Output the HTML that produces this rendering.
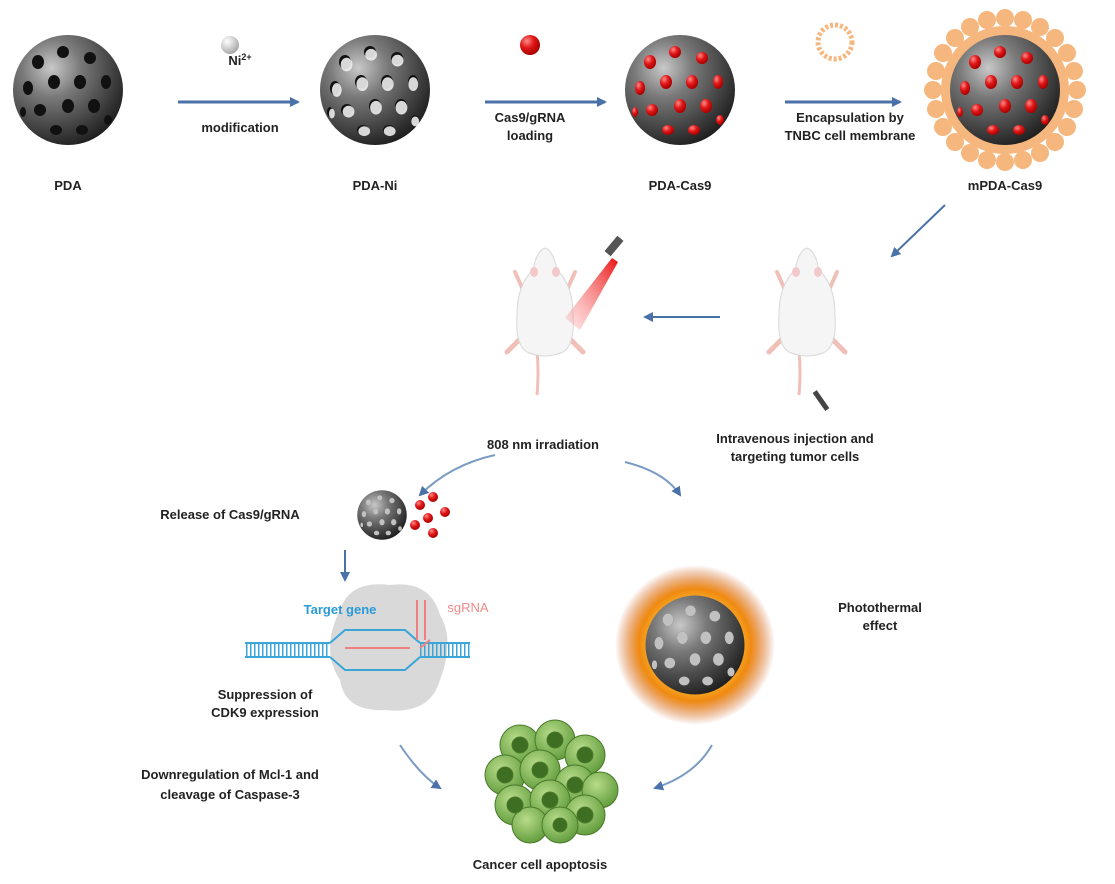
<!DOCTYPE html>
<html><head><meta charset="utf-8"><style>
html,body{margin:0;padding:0;background:#fff;}
svg{display:block;}
text{font-family:"Liberation Sans",Arial,sans-serif;font-weight:bold;font-size:13px;fill:#222;}
</style></head><body>
<svg width="1115" height="884" viewBox="0 0 1115 884" xmlns="http://www.w3.org/2000/svg">
<defs>
<radialGradient id="sph" cx="0.35" cy="0.3" r="0.75">
<stop offset="0" stop-color="#c9c9c9"/><stop offset="0.35" stop-color="#7a7a7a"/><stop offset="0.8" stop-color="#3a3a3a"/><stop offset="1" stop-color="#1e1e1e"/></radialGradient>
<radialGradient id="red" cx="0.35" cy="0.3" r="0.7"><stop offset="0" stop-color="#ff8a8a"/><stop offset="0.5" stop-color="#e01818"/><stop offset="1" stop-color="#a00"/></radialGradient>
<radialGradient id="wb" cx="0.35" cy="0.3" r="0.7"><stop offset="0" stop-color="#fff"/><stop offset="1" stop-color="#aaa"/></radialGradient>
<radialGradient id="cell" cx="0.4" cy="0.35" r="0.7"><stop offset="0" stop-color="#b8dc8a"/><stop offset="1" stop-color="#5e9a3a"/></radialGradient>
<radialGradient id="burst" cx="0.5" cy="0.5" r="0.5"><stop offset="0.4" stop-color="#ffd64a"/><stop offset="0.7" stop-color="#f08a10"/><stop offset="1" stop-color="#c85010" stop-opacity="0"/></radialGradient>
<linearGradient id="beamg" x1="1" y1="0" x2="0" y2="1"><stop offset="0" stop-color="#e81010"/><stop offset="1" stop-color="#ff9090" stop-opacity="0.2"/></linearGradient>
<marker id="ah" markerWidth="10" markerHeight="10" refX="8" refY="5" orient="auto" markerUnits="userSpaceOnUse"><path d="M0,0 L10,5 L0,10 z" fill="#4a72a8"/></marker>
<g id="holes">
<ellipse cx="-30" cy="-28" rx="6" ry="7"/><ellipse cx="-5" cy="-38" rx="6" ry="6"/><ellipse cx="22" cy="-32" rx="6" ry="6"/>
<ellipse cx="-40" cy="-2" rx="5" ry="7"/><ellipse cx="-14" cy="-8" rx="6" ry="7"/><ellipse cx="12" cy="-8" rx="6" ry="7"/><ellipse cx="38" cy="-8" rx="5" ry="7"/>
<ellipse cx="-28" cy="20" rx="6" ry="6"/><ellipse cx="0" cy="16" rx="6" ry="7"/><ellipse cx="26" cy="16" rx="6" ry="7"/>
<ellipse cx="-12" cy="40" rx="6" ry="5"/><ellipse cx="14" cy="40" rx="6" ry="5"/><ellipse cx="40" cy="30" rx="4" ry="5"/><ellipse cx="-45" cy="22" rx="3" ry="5"/>
</g>
<g id="sphere"><circle r="55" fill="url(#sph)"/></g>
<g id="mouse">
<path d="M-8,40 Q-6,62 -8,85" fill="none" stroke="#f0c0b8" stroke-width="3"/>
<path d="M-22,-20 L-30,-38 M22,-20 L30,-38" stroke="#f0c0b8" stroke-width="4" stroke-linecap="round"/>
<path d="M-26,30 L-38,42 M26,30 L38,42" stroke="#f0c0b8" stroke-width="5" stroke-linecap="round"/>
<path d="M0,-62 Q-8,-60 -12,-40 Q-28,-25 -28,5 Q-30,35 -18,42 Q0,50 18,42 Q30,35 28,5 Q28,-25 12,-40 Q8,-60 0,-62 Z" fill="#f5f5f5" stroke="#d8d8d8"/>
<ellipse cx="-11" cy="-38" rx="4" ry="5" fill="#f2c8c8"/><ellipse cx="11" cy="-38" rx="4" ry="5" fill="#f2c8c8"/>
</g>
</defs>

<!-- Row 1 -->
<g transform="translate(68,90)"><use href="#sphere"/><use href="#holes" fill="#111"/></g>
<g transform="translate(375,90)"><use href="#sphere"/><use href="#holes" fill="#111"/><use href="#holes" fill="#eee" transform="translate(1,2) scale(0.98)" opacity="0.9"/></g>
<g transform="translate(680,90)"><use href="#sphere"/><use href="#holes" fill="url(#red)"/></g>
<g transform="translate(1005,90)">
<g fill="#f6b77e">
<circle cx="0" cy="-72" r="9"/><circle cx="18" cy="-70" r="9"/><circle cx="35" cy="-63" r="9"/><circle cx="50" cy="-52" r="9"/><circle cx="62" cy="-37" r="9"/><circle cx="69" cy="-19" r="9"/><circle cx="72" cy="0" r="9"/><circle cx="69" cy="19" r="9"/><circle cx="62" cy="37" r="9"/><circle cx="50" cy="52" r="9"/><circle cx="35" cy="63" r="9"/><circle cx="18" cy="70" r="9"/><circle cx="0" cy="72" r="9"/><circle cx="-18" cy="70" r="9"/><circle cx="-35" cy="63" r="9"/><circle cx="-50" cy="52" r="9"/><circle cx="-62" cy="37" r="9"/><circle cx="-69" cy="19" r="9"/><circle cx="-72" cy="0" r="9"/><circle cx="-69" cy="-19" r="9"/><circle cx="-62" cy="-37" r="9"/><circle cx="-50" cy="-52" r="9"/><circle cx="-35" cy="-63" r="9"/><circle cx="-18" cy="-70" r="9"/>
</g>
<circle r="64" fill="#f6b77e"/>
<use href="#sphere"/><use href="#holes" fill="url(#red)"/></g>

<circle cx="230" cy="45" r="9" fill="url(#wb)"/>
<circle cx="530" cy="45" r="10" fill="url(#red)"/>
<circle cx="835" cy="42" r="17" fill="none" stroke="#f6b77e" stroke-width="5" stroke-dasharray="3 2"/>

<g stroke="#4a72a8" stroke-width="3" marker-end="url(#ah)">
<line x1="178" y1="102" x2="298" y2="102"/><line x1="485" y1="102" x2="605" y2="102"/><line x1="785" y1="102" x2="900" y2="102"/>
<line x1="945" y1="205" x2="892" y2="256" stroke-width="2"/>
<line x1="720" y1="317" x2="645" y2="317" stroke-width="2"/>
<line x1="345" y1="550" x2="345" y2="580" stroke-width="2"/>
</g>
<g fill="none" stroke="#7a9cc4" stroke-width="2" marker-end="url(#ah)">
<path d="M495,455 Q450,465 420,495"/>
<path d="M625,462 Q665,472 680,495"/>
<path d="M400,745 Q420,775 440,788"/>
<path d="M712,745 Q695,775 655,788"/>
</g>

<text x="240" y="65" text-anchor="middle">Ni<tspan font-size="9" dy="-5">2+</tspan></text>
<text x="240" y="132" text-anchor="middle">modification</text>
<text x="530" y="122" text-anchor="middle">Cas9/gRNA</text>
<text x="530" y="140" text-anchor="middle">loading</text>
<text x="850" y="122" text-anchor="middle">Encapsulation by</text>
<text x="850" y="140" text-anchor="middle">TNBC cell membrane</text>
<text x="68" y="190" text-anchor="middle">PDA</text>
<text x="375" y="190" text-anchor="middle">PDA-Ni</text>
<text x="680" y="190" text-anchor="middle">PDA-Cas9</text>
<text x="1005" y="190" text-anchor="middle">mPDA-Cas9</text>

<!-- Mice -->
<g transform="translate(545,310)"><use href="#mouse"/></g>
<path d="M612,258 L618,262 L580,330 L565,318 Z" fill="url(#beamg)"/>
<rect x="610" y="236" width="8" height="20" fill="#555" transform="rotate(40 614 246)"/>
<g transform="translate(807,310)"><use href="#mouse"/></g>
<rect x="818" y="390" width="5" height="22" fill="#444" transform="rotate(-35 820 400)"/>

<text x="543" y="449" text-anchor="middle">808 nm irradiation</text>
<text x="795" y="443" text-anchor="middle">Intravenous injection and</text>
<text x="795" y="461" text-anchor="middle">targeting tumor cells</text>

<!-- Release -->
<text x="230" y="519" text-anchor="middle">Release of Cas9/gRNA</text>
<g transform="translate(382,515) scale(0.45)"><use href="#sphere"/><use href="#holes" fill="#111"/><use href="#holes" fill="#eee" opacity="0.8"/></g>
<g fill="url(#red)"><circle cx="420" cy="505" r="5"/><circle cx="433" cy="497" r="5"/><circle cx="428" cy="518" r="5"/><circle cx="445" cy="512" r="5"/><circle cx="415" cy="525" r="5"/><circle cx="433" cy="533" r="5"/></g>

<!-- Cas9 complex -->
<path d="M340,610 Q350,580 390,585 Q430,580 440,615 Q455,640 440,680 Q430,715 385,710 Q345,712 340,680 Q320,650 340,610Z" fill="#d9d9d9"/>
<g stroke="#3aa6d8" stroke-width="2">
<line x1="245" y1="643" x2="330" y2="643"/><line x1="245" y1="657" x2="330" y2="657"/>
<line x1="420" y1="643" x2="470" y2="643"/><line x1="420" y1="657" x2="470" y2="657"/>
<path d="M330,643 L345,630 L405,630 L420,643 M330,657 L345,670 L405,670 L420,657" fill="none"/>
</g>
<g stroke="#3aa6d8" stroke-width="1.5" stroke-dasharray="1.5 2.5"><line x1="246" y1="650" x2="330" y2="650" stroke-width="13"/><line x1="420" y1="650" x2="470" y2="650" stroke-width="13"/></g>
<path d="M345,648 L410,648 M420,648 L430,640 M425,600 L425,640 M417,600 L417,640" stroke="#f08080" stroke-width="2" fill="none"/>
<text x="340" y="614" text-anchor="middle" style="fill:#2a9ad8">Target gene</text>
<text x="468" y="612" text-anchor="middle" style="fill:#f08a8a;font-weight:normal">sgRNA</text>
<text x="265" y="699" text-anchor="middle">Suppression of</text>
<text x="265" y="717" text-anchor="middle">CDK9 expression</text>

<!-- Photothermal -->
<circle cx="695" cy="645" r="80" fill="url(#burst)"/>
<g transform="translate(695,645) scale(0.9)"><use href="#sphere"/><use href="#holes" fill="#111"/><use href="#holes" fill="#eee" opacity="0.8"/></g>
<text x="880" y="612" text-anchor="middle">Photothermal</text>
<text x="880" y="630" text-anchor="middle">effect</text>

<!-- Cells -->
<g stroke="#4a7a2a" stroke-width="1">
<g fill="url(#cell)">
<circle cx="520" cy="745" r="20"/><circle cx="555" cy="740" r="20"/><circle cx="585" cy="755" r="20"/><circle cx="505" cy="775" r="20"/><circle cx="540" cy="770" r="20"/><circle cx="575" cy="785" r="20"/><circle cx="600" cy="790" r="18"/><circle cx="515" cy="805" r="20"/><circle cx="550" cy="800" r="20"/><circle cx="585" cy="815" r="20"/><circle cx="530" cy="825" r="18"/><circle cx="560" cy="825" r="18"/>
</g>
<g fill="#3e6e22">
<circle cx="520" cy="745" r="8"/><circle cx="555" cy="740" r="8"/><circle cx="585" cy="755" r="8"/><circle cx="505" cy="775" r="8"/><circle cx="540" cy="770" r="8"/><circle cx="575" cy="785" r="8"/><circle cx="515" cy="805" r="8"/><circle cx="550" cy="800" r="8"/><circle cx="585" cy="815" r="8"/><circle cx="560" cy="825" r="7"/>
</g></g>
<text x="230" y="779" text-anchor="middle">Downregulation of Mcl-1 and</text>
<text x="230" y="799" text-anchor="middle">cleavage of Caspase-3</text>
<text x="540" y="869" text-anchor="middle">Cancer cell apoptosis</text>
</svg>
</body></html>
